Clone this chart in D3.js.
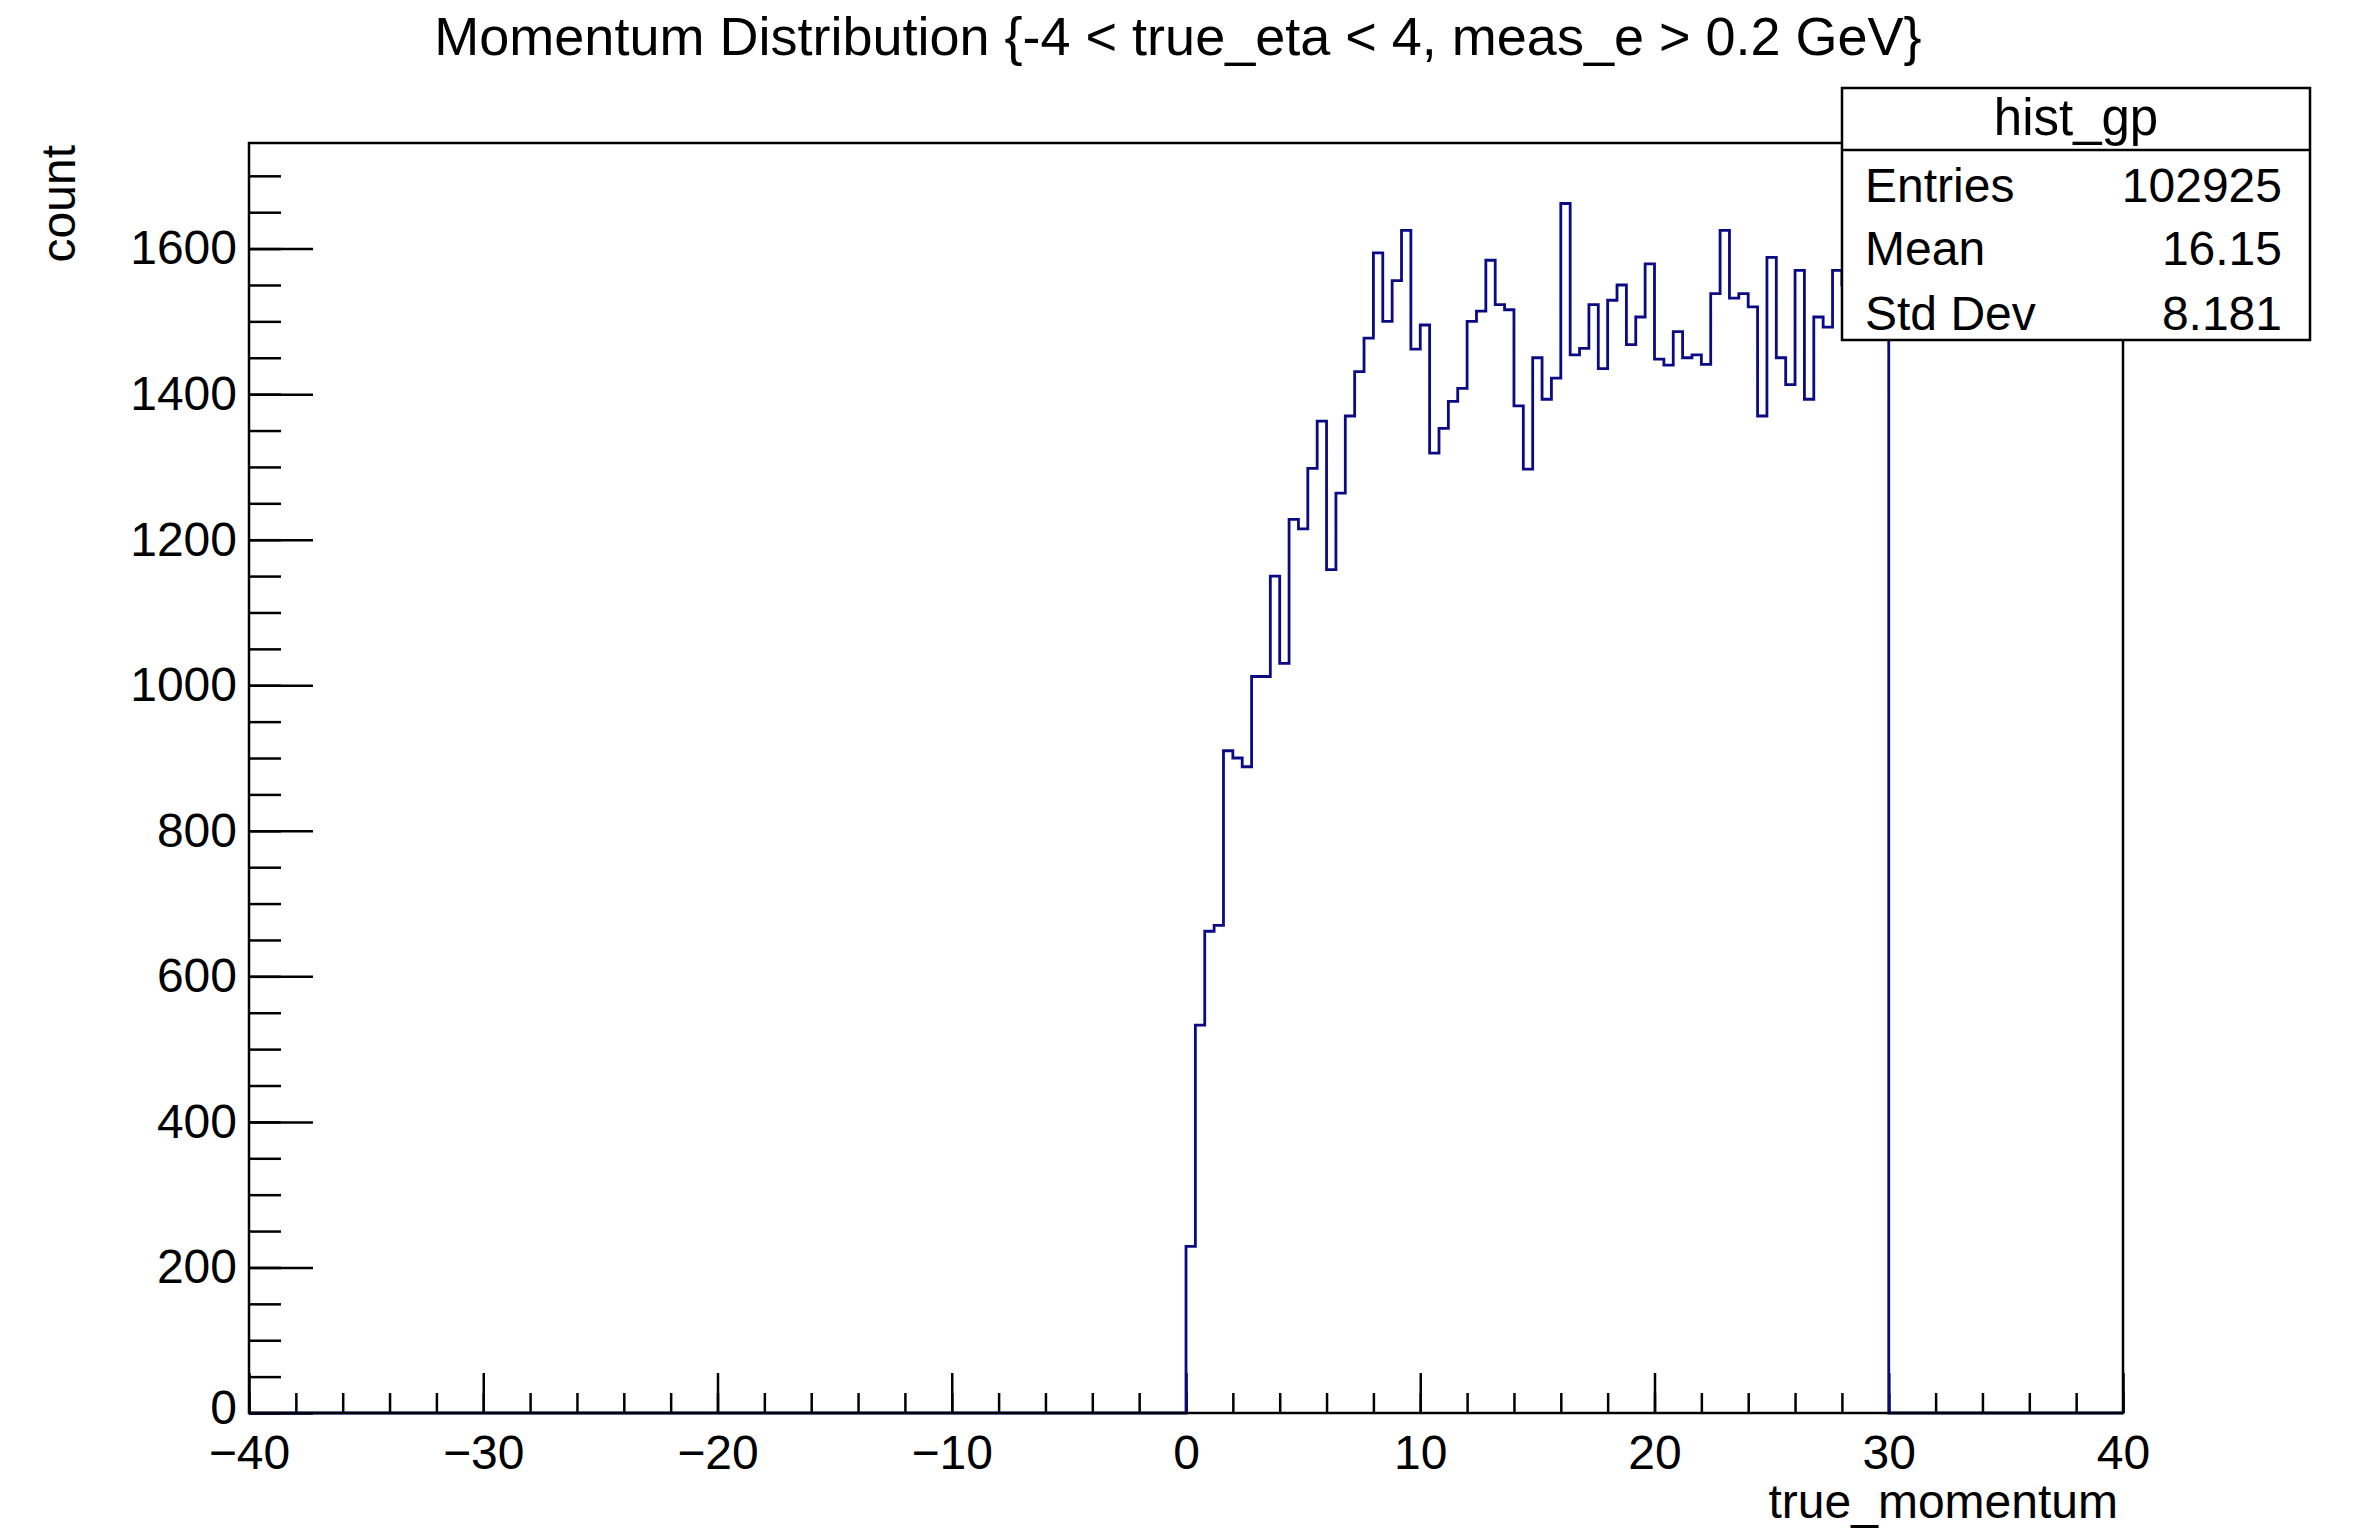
<!DOCTYPE html>
<html>
<head>
<meta charset="utf-8">
<script src="https://cdn.jsdelivr.net/npm/d3@7"></script>
<style>
    body { margin: 0; background: #fff; }
    svg { display: block; font-family: "Liberation Sans", Arial, Helvetica, sans-serif; }
</style>
</head>
<body>
<div id="chart-container"></div>
<script>
// histogram hist_gp: 200 bins on [-40, 40], only bins from 0 to 30 are filled
const xRange = [-40, 40];
const binWidth = 0.4;
const firstFilledBin = 0;   // lower edge of the first non-empty bin
const counts = [
    229, 533, 662, 670, 910, 900, 888, 1012, 1012, 1150,
    1030, 1228, 1215, 1298, 1363, 1159, 1264, 1370, 1431, 1477,
    1594, 1500, 1556, 1625, 1462, 1495, 1319, 1353, 1390, 1408,
    1500, 1514, 1584, 1523, 1516, 1384, 1297, 1450, 1393, 1422,
    1662, 1454, 1463, 1523, 1435, 1529, 1550, 1468, 1506, 1579,
    1448, 1440, 1486, 1450, 1454, 1441, 1538, 1625, 1532, 1538,
    1520, 1370, 1588, 1450, 1413, 1570, 1393, 1506, 1492, 1570,
    1550, 1600, 1540, 1590, 1566
];
const xMajorTicks = [-40, -30, -20, -10, 0, 10, 20, 30, 40];
const yMajorTicks = [0, 200, 400, 600, 800, 1000, 1200, 1400, 1600];

const titleText = 'Momentum Distribution {-4 < true_eta < 4, meas_e > 0.2 GeV}';
const xTitle = 'true_momentum';
const yTitle = 'count';
const statsName = 'hist_gp';
const statLabels = ['Entries', 'Mean', 'Std Dev'];
const statValues = ['102925', '16.15', '8.181'];

window.addEventListener('load', function() {
    createChart();
});

function createChart() {
    const svgWidth = 2356;
    const svgHeight = 1533;
    const frame = { left: 249, right: 2123, top: 143, bottom: 1413 };
    const lineColor = '#0a0a85';
    const fontSize = 48;

    const svg = d3.select('#chart-container')
    .append('svg')
    .attr('width', svgWidth)
    .attr('height', svgHeight);

    const xScale = d3.scaleLinear()
    .domain(xRange)
    .range([frame.left, frame.right]);

    // ROOT puts the top of the frame at 1.05 * the highest bin
    const yScale = d3.scaleLinear()
    .domain([0, d3.max(counts) * 1.05])
    .range([frame.bottom, frame.top]);

    // minor ticks first
    const xMinor = d3.axisBottom(xScale)
    .tickValues(d3.range(xRange[0], xRange[1] + 0.001, 2))
    .tickFormat('')
    .tickSize(-20)
    .tickSizeOuter(0);
    svg.append('g')
    .attr('transform', `translate(0, ${frame.bottom})`)
    .call(xMinor);

    const xAxis = d3.axisBottom(xScale)
    .tickValues(xMajorTicks)
    .tickFormat(d => d < 0 ? '\u2212' + Math.abs(d) : String(d))
    .tickSize(-40)
    .tickSizeOuter(0)
    .tickPadding(22);
    svg.append('g')
    .attr('id', 'x-axis')
    .attr('transform', `translate(0, ${frame.bottom})`)
    .call(xAxis);

    const yMinor = d3.axisLeft(yScale)
    .tickValues(d3.range(0, yScale.domain()[1], 50))
    .tickFormat('')
    .tickSize(-32)
    .tickSizeOuter(0);
    svg.append('g')
    .attr('transform', `translate(${frame.left}, 0)`)
    .call(yMinor);

    const yAxis = d3.axisLeft(yScale)
    .tickValues(yMajorTicks)
    .tickFormat(d3.format('d'))
    .tickSize(-64)
    .tickSizeOuter(0)
    .tickPadding(12);
    svg.append('g')
    .attr('id', 'y-axis')
    .attr('transform', `translate(${frame.left}, 0)`)
    .call(yAxis);

    svg.selectAll('.domain').remove();
    svg.selectAll('.tick line')
    .attr('stroke', '#000')
    .attr('stroke-width', 2.5);
    svg.selectAll('.tick text')
    .attr('fill', '#000')
    .style('font-size', fontSize + 'px');
    // the "0" of the count axis sits a touch above the x labels
    svg.select('#y-axis').selectAll('.tick text')
    .filter(d => d === 0)
    .attr('dy', '0.22em');

    // histogram outline, stepping across every bin
    const points = [{ x: xRange[0], v: 0 }, { x: firstFilledBin, v: 0 }];
    counts.forEach((c, i) => points.push({ x: firstFilledBin + i * binWidth, v: c }));
    points.push({ x: firstFilledBin + counts.length * binWidth, v: 0 });
    points.push({ x: xRange[1], v: 0 });

    const histLine = d3.line()
    .x(d => xScale(d.x))
    .y(d => yScale(d.v))
    .curve(d3.curveStepAfter);

    svg.append('path')
    .datum(points)
    .attr('d', histLine)
    .attr('fill', 'none')
    .attr('stroke', lineColor)
    .attr('stroke-width', 2.8);

    // frame
    svg.append('rect')
    .attr('x', frame.left)
    .attr('y', frame.top)
    .attr('width', frame.right - frame.left)
    .attr('height', frame.bottom - frame.top)
    .attr('fill', 'none')
    .attr('stroke', '#000')
    .attr('stroke-width', 2.5);

    // titles
    svg.append('text')
    .attr('x', 1178)
    .attr('y', 55)
    .attr('text-anchor', 'middle')
    .style('font-size', '54px')
    .text(titleText);

    svg.append('text')
    .attr('x', 2118)
    .attr('y', 1518)
    .attr('text-anchor', 'end')
    .style('font-size', fontSize + 'px')
    .text(xTitle);

    svg.append('text')
    .attr('transform', 'translate(75, 145) rotate(-90)')
    .attr('text-anchor', 'end')
    .style('font-size', fontSize + 'px')
    .text(yTitle);

    // stats box
    const box = { left: 1842, right: 2310, top: 88, bottom: 340, divider: 150 };
    const stats = svg.append('g').attr('id', 'stats');
    stats.append('rect')
    .attr('x', box.left)
    .attr('y', box.top)
    .attr('width', box.right - box.left)
    .attr('height', box.bottom - box.top)
    .attr('fill', '#fff')
    .attr('stroke', '#000')
    .attr('stroke-width', 2.5);
    stats.append('line')
    .attr('x1', box.left)
    .attr('x2', box.right)
    .attr('y1', box.divider)
    .attr('y2', box.divider)
    .attr('stroke', '#000')
    .attr('stroke-width', 2.5);
    stats.append('text')
    .attr('x', (box.left + box.right) / 2)
    .attr('y', 135)
    .attr('text-anchor', 'middle')
    .style('font-size', '51px')
    .text(statsName);

    const rowBase = [202, 265, 330];
    stats.selectAll('.stat-label')
    .data(statLabels)
    .enter()
    .append('text')
    .attr('class', 'stat-label')
    .attr('x', 1865)
    .attr('y', (d, i) => rowBase[i])
    .style('font-size', fontSize + 'px')
    .text(d => d);
    stats.selectAll('.stat-value')
    .data(statValues)
    .enter()
    .append('text')
    .attr('class', 'stat-value')
    .attr('x', 2282)
    .attr('y', (d, i) => rowBase[i])
    .attr('text-anchor', 'end')
    .style('font-size', fontSize + 'px')
    .text(d => d);
}
</script>
</body>
</html>
